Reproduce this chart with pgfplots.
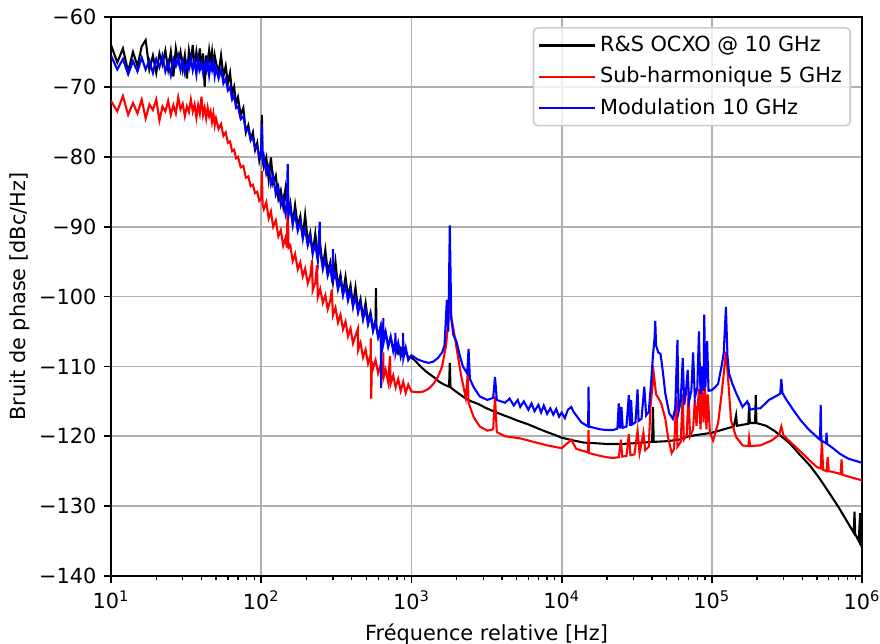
\documentclass[border=0pt]{standalone}
\usepackage{fontspec}
\setmainfont{DejaVu Sans}
\usepackage{pgfplots}
\pgfplotsset{compat=1.18}
\definecolor{gridgray}{HTML}{B0B0B0}
\definecolor{legedge}{HTML}{CCCCCC}

\begin{document}
\begin{tikzpicture}
\begin{axis}[
    name=ax,
    scale only axis,
    width=360.5pt,
    height=268.3pt,
    xmode=log,
    log basis x=10,
    xmin=10, xmax=1e6,
    ymin=-140, ymax=-60,
    xtick={1e1,1e2,1e3,1e4,1e5,1e6},
    xticklabels={10\textsuperscript{1},10\textsuperscript{2},10\textsuperscript{3},10\textsuperscript{4},10\textsuperscript{5},10\textsuperscript{6}},
    minor xtick={20,30,40,50,60,70,80,90,200,300,400,500,600,700,800,900,2000,3000,4000,5000,6000,7000,8000,9000,2e4,3e4,4e4,5e4,6e4,7e4,8e4,9e4,2e5,3e5,4e5,5e5,6e5,7e5,8e5,9e5},
    ytick={-140,-130,-120,-110,-100,-90,-80,-70,-60},
    yticklabels={−140,−130,−120,−110,−100,−90,−80,−70,−60},
    grid=major,
    major grid style={gridgray, line width=0.8pt},
    tick align=outside,
    xtick pos=bottom,
    ytick pos=left,
    major tick length=3.5pt,
    minor tick length=2pt,
    every major tick/.append style={black, line width=0.8pt},
    every minor tick/.append style={black, line width=0.6pt},
    axis line style={line width=0.8pt},
    tick label style={font=\fontsize{10}{12}\selectfont},
    label style={font=\fontsize{10}{12}\selectfont},
    xlabel={Fréquence relative [Hz]},
    ylabel={Bruit de phase [dBc/Hz]},
    ylabel style={yshift=-2.4pt},
    legend style={at={(1,1)}, anchor=north east, xshift=-5.3pt, yshift=-4.8pt,
        draw=legedge, line width=0.8pt, rounded corners=2pt,
        fill=white, fill opacity=0.8, text opacity=1,
        inner xsep=2pt, inner ysep=2pt, row sep=1.9pt,
        font=\fontsize{10}{12}\selectfont},
    legend cell align=left,
    legend image code/.code={\path (-1.6pt,0pt) -- (0pt,0pt); \draw[#1, line width=1pt] (0pt,0pt) -- (20pt,0pt); \path (20pt,0pt) -- (25.3pt,0pt);},
    every axis plot/.append style={line width=1pt},
]

% R&S OCXO @ 10 GHz
\addplot[black] coordinates {
(10,-64.0)(11,-66.5)(12,-64.5)(13,-67.8)(14,-65.0)(15,-67.0)(16,-64.2)(17,-63.3)(18,-67.5)(19,-65.5)
(20,-68.0)(21,-65.2)(22,-66.8)(23,-64.8)(24,-67.5)(25,-65.0)(26,-68.5)(27,-64.5)(28,-66.5)(29,-65.0)
(30,-67.5)(31,-65.5)(32,-68.8)(33,-64.8)(34,-66.5)(35,-64.0)(36,-67.2)(37,-65.0)(38,-66.8)(39,-64.5)
(40,-67.5)(41,-65.2)(42,-70.0)(43,-65.5)(44,-67.0)(45,-64.8)(46,-66.5)(47,-65.0)(48,-67.8)(49,-65.5)
(50,-66.5)(52,-68.0)(54,-65.5)(56,-68.5)(58,-67.0)(60,-69.5)(62,-68.0)(64,-71.0)(66,-70.0)(68,-72.5)
(70,-71.5)(73,-74.0)(76,-73.0)(79,-76.5)(82,-75.5)(85,-77.5)(88,-76.5)(91,-79.0)(94,-78.0)(97,-80.5)
(100,-79.0)(101,-74.0)(102,-80.0)(104,-81.4)(108,-80.1)(112,-83.2)(116,-80.1)(120,-83.8)(125,-82.7)
(130,-86.0)(135,-84.8)(140,-87.1)(145,-84.6)(150,-88.3)(156,-86.6)(162,-89.6)(168,-86.9)(175,-90.0)
(182,-88.5)(189,-91.5)(196,-88.3)(204,-92.2)(212,-90.9)(220,-93.8)(229,-91.0)(238,-94.3)(247,-92.6)
(257,-95.8)(267,-93.3)(277,-96.5)(288,-95.1)(300,-98.0)(312,-95.0)(324,-98.5)(337,-96.9)(350,-99.6)
(364,-97.2)(378,-100.0)(393,-98.4)(408,-101.3)(424,-98.7)(441,-101.9)(458,-100.4)(476,-103.1)
(495,-100.9)(514,-103.7)(534,-102.3)(555,-104.8)(577,-103.3)(580,-98.8)(585,-104.5)(600,-105.7)
(624,-104.2)(648,-106.3)(673,-105.2)(700,-107.0)(727,-105.9)(756,-107.5)(785,-106.7)(816,-108.1)
(848,-107.4)(881,-108.5)(916,-107.9)(952,-108.7)
(1000,-108.7)(1070,-109.3)(1150,-110.0)(1230,-110.6)(1320,-111.1)(1420,-111.6)(1530,-112.2)
(1650,-112.6)(1780,-112.9)(1800,-109.5)(1820,-113.0)(1950,-113.5)(2100,-114.0)(2300,-114.6)
(2500,-115.0)(2800,-115.4)(3100,-115.9)(3500,-116.4)(4000,-116.9)(4500,-117.3)(5000,-117.7)
(6000,-118.3)(7000,-118.9)(8000,-119.4)(9000,-119.8)(10000,-120.2)(12000,-120.6)(14000,-120.9)
(17000,-121.0)(20000,-121.1)(25000,-121.1)(30000,-121.0)(35000,-120.9)(40000,-120.8)(40500,-115.8)
(41000,-120.8)(50000,-120.7)(60000,-120.5)(70000,-120.0)(80000,-119.8)(100000,-119.5)(120000,-119.0)
(140000,-118.6)(145000,-117.0)(147000,-118.5)(175000,-118.2)(177000,-115.3)(179000,-118.1)
(194000,-118.1)(196000,-114.1)(198000,-118.1)(230000,-118.5)(260000,-119.2)(290000,-120.0)
(330000,-121.0)(380000,-122.5)(450000,-124.2)(520000,-126.0)(600000,-128.0)(700000,-130.2)
(800000,-132.3)(880000,-133.8)(890000,-130.8)(900000,-134.0)(950000,-135.0)(970000,-131.0)
(980000,-135.4)(1000000,-136.0)
};
\addlegendentry{R\&S OCXO @ 10 GHz}

% Sub-harmonique 5 GHz
\addplot[red] coordinates {
(10,-72.0)(11,-73.5)(12,-71.3)(13,-74.0)(14,-72.3)(15,-73.8)(16,-71.8)(17,-74.5)(18,-72.5)(19,-73.3)
(20,-71.8)(21,-74.8)(22,-72.8)(23,-73.5)(24,-72.0)(25,-74.0)(26,-72.6)(27,-73.8)(28,-71.5)(29,-73.2)
(30,-72.4)(31,-74.2)(32,-72.8)(33,-73.6)(34,-71.8)(35,-73.5)(36,-72.5)(37,-74.4)(38,-72.6)(39,-73.8)
(40,-71.4)(41,-74.0)(42,-73.0)(43,-74.5)(44,-73.0)(45,-74.2)(46,-73.5)(47,-75.0)(48,-73.8)(49,-75.5)
(50,-74.5)(52,-76.0)(54,-75.3)(56,-77.0)(58,-76.5)(60,-78.0)(62,-77.8)(64,-79.2)(66,-79.0)(68,-80.2)
(70,-80.0)(73,-81.5)(76,-81.3)(79,-83.0)(82,-82.8)(85,-84.2)(88,-84.0)(91,-85.2)(94,-85.0)(97,-86.3)
(100,-86.0)(101,-82.0)(102,-86.8)(104,-87.5)(108,-86.5)(112,-88.8)(116,-87.8)(120,-90.0)(125,-89.1)
(130,-91.4)(135,-90.5)(140,-92.7)(145,-91.6)(148,-93.0)(150,-86.6)(152,-93.0)(156,-92.7)(162,-94.9)
(168,-93.9)(175,-96.1)(182,-95.1)(189,-97.1)(196,-96.0)(204,-98.1)(212,-97.0)(218,-94.8)(220,-99.1)
(229,-98.0)(235,-95.5)(238,-100.1)(247,-98.9)(257,-100.9)(267,-99.8)(277,-101.8)(288,-100.6)
(295,-99.0)(300,-102.7)(312,-101.6)(324,-103.7)(337,-102.6)(350,-104.7)(364,-103.6)(378,-105.7)
(393,-104.6)(408,-106.7)(424,-105.6)(440,-104.6)(441,-107.7)(458,-106.6)(476,-108.7)(495,-107.6)
(514,-109.6)(534,-108.4)(536,-106.0)(540,-114.6)(545,-109.3)(555,-110.3)(577,-109.1)(600,-111.0)
(624,-109.8)(648,-111.8)(650,-108.0)(652,-111.6)(673,-110.5)(700,-112.3)(720,-108.5)(727,-112.5)
(756,-111.3)(785,-113.0)(816,-111.8)(848,-113.5)(881,-112.2)(916,-113.8)(952,-112.6)
(1000,-113.6)(1100,-113.7)(1200,-113.6)(1300,-113.2)(1400,-112.5)(1500,-111.5)(1600,-110.0)
(1700,-107.0)(1750,-104.0)(1800,-98.6)(1840,-103.0)(1900,-104.5)(2000,-107.5)(2150,-111.5)
(2300,-114.5)(2370,-111.0)(2400,-115.2)(2600,-117.3)(2850,-118.6)(3200,-119.2)(3500,-119.0)
(3600,-114.3)(3700,-119.4)(4200,-120.0)(5300,-120.3)(6500,-120.8)(8000,-121.3)(10000,-121.7)
(11600,-120.5)(12500,-121.8)(15000,-122.3)(15100,-119.1)(15200,-122.4)(18000,-122.8)(20000,-123.0)
(22000,-123.1)(24000,-123.0)(24800,-120.5)(25300,-122.9)(27000,-122.8)(28000,-119.7)(28700,-122.7)
(30500,-122.6)(32000,-119.2)(33000,-122.4)(35000,-119.5)(36000,-122.0)(38000,-121.5)(39000,-115.8)
(41000,-111.0)(42500,-114.0)(44000,-114.5)(46000,-115.3)(49000,-117.5)(51000,-120.1)(54000,-122.4)
(56000,-121.8)(58000,-114.4)(59000,-121.5)(62000,-120.8)(64000,-114.0)(65000,-120.5)(68000,-119.8)
(70000,-113.5)(71500,-120.0)(75000,-119.0)(77000,-114.8)(79000,-118.5)(82000,-113.2)(84000,-119.0)
(86000,-112.7)(88000,-118.0)(90000,-113.0)(92000,-119.0)(94000,-114.0)(97000,-119.5)(102000,-120.6)
(110000,-118.1)(116000,-114.0)(120000,-111.0)(124000,-107.9)(128000,-111.5)(134000,-117.7)
(145000,-120.1)(160000,-121.3)(175000,-121.4)(177000,-120.2)(180000,-121.4)(210000,-121.3)
(250000,-120.6)(280000,-119.8)(290000,-118.6)(300000,-119.9)(340000,-121.0)(390000,-122.2)
(450000,-123.5)(500000,-124.4)(530000,-124.6)(540000,-120.5)(550000,-124.8)(580000,-125.0)
(590000,-123.0)(600000,-125.0)(640000,-125.1)(720000,-125.4)(730000,-123.3)(740000,-125.5)
(850000,-125.9)(1000000,-126.3)
};
\addlegendentry{Sub-harmonique 5 GHz}

% Modulation 10 GHz
\addplot[blue] coordinates {
(10,-65.5)(11,-67.5)(12,-66.0)(13,-68.2)(14,-66.3)(15,-67.8)(16,-65.8)(17,-67.5)(18,-66.2)(19,-68.0)
(20,-66.0)(21,-67.2)(22,-65.5)(23,-67.8)(24,-66.4)(25,-68.3)(26,-66.0)(27,-67.0)(28,-65.6)(29,-67.6)
(30,-66.2)(31,-68.0)(32,-66.5)(33,-67.4)(34,-65.8)(35,-67.6)(36,-66.3)(37,-68.2)(38,-66.0)(39,-67.5)
(40,-66.5)(41,-68.0)(42,-66.8)(43,-67.6)(44,-66.2)(45,-68.3)(46,-66.8)(47,-67.6)(48,-66.5)(49,-68.4)
(50,-67.2)(52,-68.8)(54,-67.5)(56,-69.5)(58,-68.8)(60,-70.5)(62,-70.0)(64,-71.8)(66,-71.2)(68,-73.0)
(70,-72.8)(73,-74.6)(76,-74.2)(79,-76.3)(82,-76.0)(85,-77.6)(88,-77.3)(91,-78.8)(94,-78.5)(97,-80.0)
(100,-79.6)(101,-75.3)(102,-80.6)(104,-79.9)(108,-82.4)(112,-81.4)(116,-83.9)(120,-82.7)(125,-85.4)
(130,-84.3)(135,-86.9)(140,-85.8)(145,-88.1)(148,-87.0)(150,-81.0)(152,-88.3)(156,-87.2)(162,-89.6)
(168,-88.2)(175,-90.6)(182,-89.3)(189,-91.6)(196,-90.4)(204,-92.7)(212,-91.4)(220,-93.8)(229,-92.6)
(238,-94.9)(245,-89.3)(247,-93.6)(257,-96.0)(267,-94.7)(277,-97.0)(288,-95.7)(298,-98.1)(300,-93.2)
(302,-97.5)(312,-96.7)(324,-99.0)(337,-97.6)(350,-99.8)(364,-98.4)(378,-100.6)(393,-99.2)(408,-101.4)
(424,-100.1)(441,-102.3)(458,-100.9)(476,-103.2)(495,-101.8)(514,-104.0)(534,-102.7)(555,-104.9)
(577,-103.5)(600,-105.8)(624,-104.4)(628,-113.1)(632,-105.4)(648,-104.8)(650,-103.1)(652,-106.6)
(673,-105.1)(700,-107.2)(727,-105.7)(756,-107.8)(780,-106.3)(782,-105.2)(785,-108.1)(816,-106.6)
(848,-108.6)(878,-107.1)(880,-105.2)(884,-108.8)(916,-107.3)(952,-109.1)
(1000,-108.4)(1100,-109.0)(1200,-109.3)(1300,-109.5)(1400,-109.3)(1500,-108.8)(1600,-108.0)(1660,-107.0)
(1720,-100.5)(1760,-105.0)(1800,-89.8)(1840,-103.0)(1900,-105.5)(2000,-106.5)(2100,-108.5)
(2200,-110.0)(2350,-111.0)(2400,-107.5)(2450,-111.8)(2600,-113.0)(2850,-114.3)(3200,-114.8)
(3500,-114.5)(3600,-111.5)(3700,-114.8)(4200,-115.2)(4500,-114.6)(4800,-115.6)(5100,-114.8)
(5300,-115.8)(5600,-115.0)(6000,-116.2)(6300,-115.3)(6600,-116.4)(7000,-115.5)(7300,-116.6)
(7600,-115.6)(8000,-116.8)(8400,-116.0)(8800,-116.9)(9200,-116.1)(9600,-117.2)(10000,-116.6)
(10500,-117.4)(11000,-116.2)(11600,-115.8)(12000,-116.5)(12500,-117.0)(13500,-118.0)
(15000,-118.6)(15100,-112.9)(15200,-118.6)(18000,-119.0)
(20000,-119.1)(22000,-119.1)(23500,-118.9)(24000,-115.3)(24500,-118.9)(25000,-115.8)(25500,-118.8)
(27000,-118.6)(28000,-114.1)(28500,-118.5)(29000,-114.8)(29500,-118.3)(31000,-118.0)(32000,-113.3)
(32500,-117.8)(34000,-117.5)(35500,-112.9)(36500,-117.0)(38000,-116.5)(39500,-112.0)(40500,-108.5)
(41500,-106.0)(42000,-103.5)(42500,-107.0)(44000,-108.0)(45500,-108.2)(47000,-110.5)(49000,-113.9)
(52000,-116.7)(55000,-117.5)(57000,-116.0)(59000,-106.2)(60000,-116.5)(62000,-115.0)(64000,-108.8)
(65500,-115.5)(67000,-114.0)(69000,-110.5)(70500,-115.0)(73000,-113.5)(75000,-108.0)(77000,-114.5)
(80000,-113.0)(82000,-105.0)(84000,-114.0)(86000,-110.0)(88000,-113.5)(89000,-102.6)(90500,-113.0)
(93000,-106.4)(95000,-113.5)(100000,-113.4)(106000,-112.9)(110000,-112.5)(116000,-110.0)
(120000,-108.0)(124000,-101.5)(127000,-108.5)(130000,-111.0)(137000,-112.5)(145000,-113.8)
(160000,-115.8)(172000,-115.0)(180000,-116.2)(195000,-116.0)(210000,-116.0)(240000,-114.8)
(270000,-114.2)(285000,-113.9)(290000,-111.8)(295000,-113.8)(310000,-114.6)(350000,-116.3)
(390000,-117.7)(440000,-119.0)(500000,-120.1)(525000,-120.5)(530000,-115.5)(535000,-120.6)
(575000,-121.0)(580000,-119.5)(585000,-121.1)(640000,-121.7)(710000,-122.5)(810000,-123.2)
(900000,-123.5)(1000000,-123.8)
};
\addlegendentry{Modulation 10 GHz}
\end{axis}
\pgfresetboundingbox
\path[use as bounding box] ([xshift=-53.3pt,yshift=-32.6pt]ax.south west) rectangle ([xshift=8.6pt,yshift=8.2pt]ax.north east);
\end{tikzpicture}
\end{document}
